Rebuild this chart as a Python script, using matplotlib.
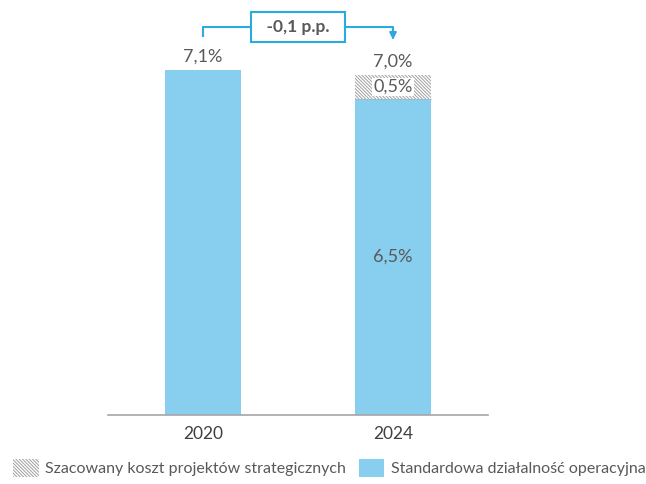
import matplotlib.pyplot as plt
from matplotlib.patches import Patch

plt.rcParams['font.family'] = ['Lato', 'DejaVu Sans']
plt.rcParams['hatch.linewidth'] = 0.7

# Données
years = ["2020", "2024"]
standard = [7.1, 6.5]          # Standardowa działalność operacyjna
strategic = [0.0, 0.5]         # Szacowany koszt projektów strategicznych
total_labels = ["7,1%", "7,0%"]
standard_labels = ["", "6,5%"]
strategic_labels = ["", "0,5%"]
change_label = "-0,1 p.p."
legend_labels = ["Szacowany koszt projektów strategicznych",
                 "Standardowa działalność operacyjna"]

blue = '#87CEEF'
cyan = '#2AAAE0'
txt = '#595959'
hatch_gray = '#A0A0A0'
hatch = '\\' * 10

fig = plt.figure(figsize=(6.46, 4.84), dpi=100)
ax = fig.add_axes([108 / 646, 69 / 484, 380 / 646, 415 / 484])

x = list(range(len(years)))
ax.bar(x, standard, width=0.4, color=blue, zorder=2)
ax.bar(x, strategic, width=0.4, bottom=standard, color='white',
       edgecolor=hatch_gray, hatch=hatch, linewidth=0, zorder=2)

for i in x:
    top = standard[i] + strategic[i]
    ax.text(i, top + 0.1, total_labels[i], ha='center', va='bottom',
            fontsize=13, color=txt)
    if strategic[i] > 0:
        ax.plot([i - 0.2, i + 0.2], [standard[i], standard[i]], color='#AAAAAA',
                linestyle=(0, (1, 1.5)), linewidth=0.8, zorder=3)
        ax.text(i, standard[i] + strategic[i] / 2, strategic_labels[i],
                ha='center', va='center', fontsize=13, color=txt, zorder=4,
                bbox=dict(facecolor='white', edgecolor='none', pad=1.0))
    if standard_labels[i]:
        ax.text(i, standard[i] / 2, standard_labels[i], ha='center',
                va='center', fontsize=13, color=txt, zorder=4)

# Crochet de variation
y_start = standard[0] + strategic[0] + 0.68
y_top = 7.98
y_end = standard[1] + strategic[1] + 0.72
ax.plot([0, 0, 0.5], [y_start, y_top, y_top], color=cyan, lw=1.5,
        clip_on=False, solid_capstyle='butt')
ax.annotate('', xy=(1, y_end), xytext=(0.5, y_top),
            arrowprops=dict(arrowstyle='-|>', color=cyan, lw=1.5,
                            connectionstyle='angle,angleA=0,angleB=90,rad=0',
                            shrinkA=0, shrinkB=0, mutation_scale=10),
            annotation_clip=False)
ax.text(0.5, y_top, "  " + change_label + "  ", ha='center', va='center',
        fontsize=12.5, fontweight='bold', color=txt, zorder=5,
        bbox=dict(boxstyle='square,pad=0.4', facecolor='white',
                  edgecolor=cyan, linewidth=1.5))

ax.set_xlim(-0.5, 1.5)
ax.set_ylim(0, 8.54)
ax.set_xticks(x)
ax.set_xticklabels(years, fontsize=12.5, color='#404040')
ax.tick_params(axis='x', length=0, pad=8)
ax.set_yticks([])
for s in ['top', 'right', 'left']:
    ax.spines[s].set_visible(False)
ax.spines['bottom'].set_color('#A6A6A6')
ax.spines['bottom'].set_linewidth(1.2)

handles = [Patch(facecolor='white', edgecolor=hatch_gray, hatch=hatch, linewidth=0),
           Patch(facecolor=blue, edgecolor='none')]
fig.legend(handles, legend_labels, loc='center', bbox_to_anchor=(0.51, 16 / 484),
           ncol=2, frameon=False, fontsize=11.5, labelcolor=txt,
           handlelength=1.6, handleheight=1.3, handletextpad=0.4, columnspacing=0.8)

plt.savefig('out.png', dpi=100)
